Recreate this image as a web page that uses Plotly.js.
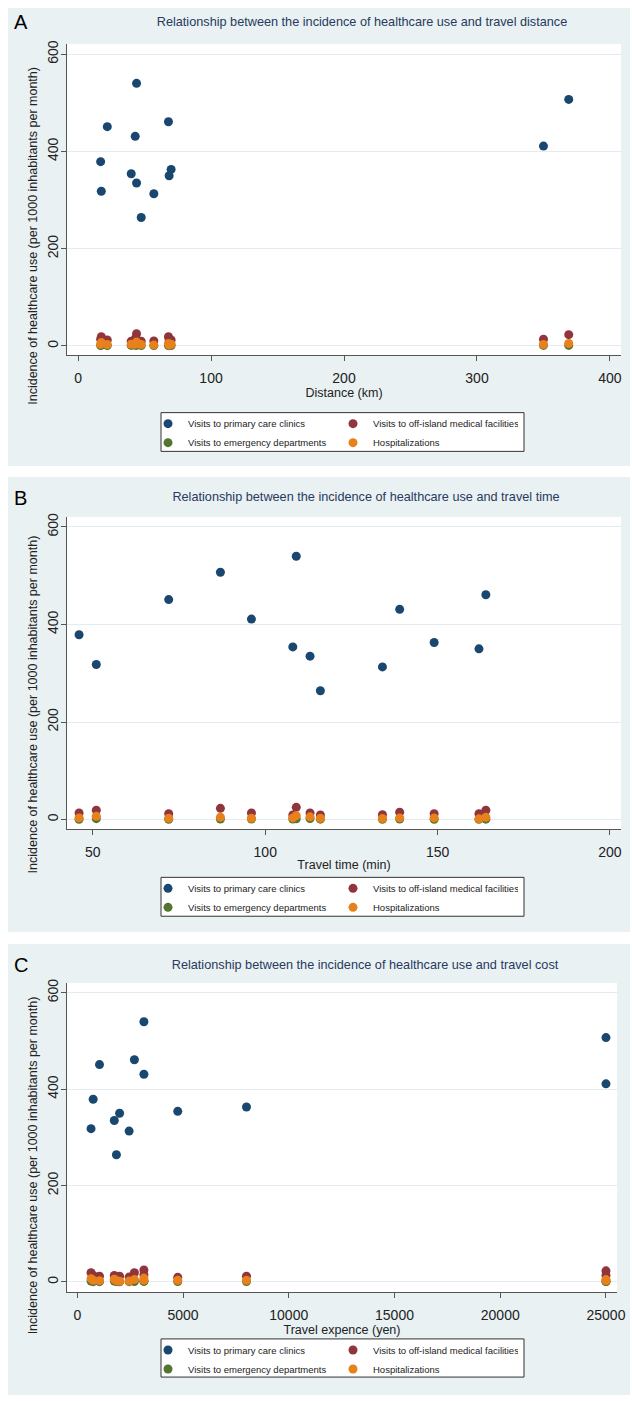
<!DOCTYPE html>
<html><head><meta charset="utf-8">
<script src="https://cdn.plot.ly/plotly-3.0.1.min.js"></script>
<style>
body{margin:0;background:#fff;width:632px;height:1401px;position:relative;overflow:hidden}
.panel{position:absolute;left:8px;width:622px}
</style></head><body>
<div id="pA" class="panel" style="top:8px;height:458px"></div>
<div id="pB" class="panel" style="top:477px;height:455px"></div>
<div id="pC" class="panel" style="top:944px;height:451px"></div>
<script>
// ---- data (one entry per island, same order in every array) ----
const seriesNames = ['Visits to primary care clinics', 'Visits to off-island medical facilities', 'Visits to emergency departments', 'Hospitalizations'];
const seriesColors = ['#1a476f', '#90353b', '#55752f', '#e8801c'];
const distanceKm     = [44, 369, 68, 22, 43, 350, 17, 70, 40, 68.5, 44, 17.5, 57, 47.5];
const travelTimeMin  = [109, 87, 164, 72, 139, 96, 46, 149, 108, 162, 113, 51, 134, 116];
const travelCostYen  = [3150, 25000, 2700, 1050, 3150, 25000, 750, 8000, 4750, 2000, 1750, 650, 2450, 1850];
const primaryCare    = [540, 507, 461, 451, 431, 411, 379, 363, 354, 350, 335, 318, 313, 264];
const offIsland      = [25, 23, 19, 12, 15, 13.5, 13.5, 12, 9.5, 12, 13.5, 19, 10, 9.5];
const emergency      = [1.5, 1.0, 0.8, 0.5, 1.2, 0.9, 0.6, 0.7, 1.0, 0.4, 2.0, 1.8, 0.5, 0.8];
const hospitalization= [8, 4.8, 4.8, 2.7, 3.4, 2.7, 3.4, 3.4, 3.4, 1.4, 5.5, 6.8, 2, 2.7];
const yTicks = [0, 200, 400, 600];
const yAxisTitle = 'Incidence of healthcare use (per 1000 inhabitants per month)';

const FONT = 'Liberation Sans, Arial, Helvetica, sans-serif';

function drawPanel(id, o) {
  const W = 622, H = o.height;
  const l = o.l, r = o.r, t = o.t, b = o.b;
  const pw = W - l - r, ph = H - t - b;
  const plotBottom = t + ph;            // div px
  const px2x = px => (px - l) / pw;     // div px -> paper x
  const py2y = py => (plotBottom - py) / ph; // div px -> paper y
  const ys = [primaryCare, offIsland, emergency, hospitalization];
  const traces = ys.map((y, i) => ({
    type: 'scatter', mode: 'markers', x: o.x, y: y, name: seriesNames[i],
    marker: {color: seriesColors[i], size: 9, line: {width: 0}},
    legendgroup: (i === 0 || i === 2) ? 'c1' : 'c2',
    hoverinfo: 'skip'
  }));
  const layout = {
    width: W, height: H,
    margin: {l: l, r: r, t: t, b: b, pad: 0},
    paper_bgcolor: '#e9f1f3', plot_bgcolor: '#ffffff',
    font: {family: FONT, color: '#222'},
    title: {text: o.title, font: {family: FONT, size: 12.7, color: '#283a5e'},
            xref: 'container', yref: 'container', x: o.titleX / W, xanchor: 'center',
            y: 1 - o.titleY / H, yanchor: 'middle'},
    xaxis: {range: o.xRange, tickvals: o.xTicks, ticktext: o.xTicks.map(String),
            ticks: 'outside', ticklen: 5, tickcolor: '#555', tickwidth: 1, ticklabelstandoff: 5,
            showline: true, linecolor: '#555', linewidth: 1, showgrid: false, zeroline: false,
            tickfont: {family: FONT, size: 14, color: '#222'},
            title: {text: o.xTitle, font: {family: FONT, size: 12.5, color: '#222'}, standoff: 1},
            automargin: false, fixedrange: true},
    yaxis: {range: o.yRange, tickvals: yTicks, ticks: 'outside', ticklen: 5, tickcolor: '#555', tickwidth: 1,
            ticklabelstandoff: -3,
            showline: true, linecolor: '#555', linewidth: 1, showgrid: true, gridcolor: '#e3edf0', gridwidth: 1,
            zeroline: false, tickangle: -90, tickfont: {family: FONT, size: 14, color: '#222'},
            automargin: false, fixedrange: true},
    showlegend: true,
    legend: {orientation: 'h', traceorder: 'grouped', tracegroupgap: 0,
             x: px2x(o.legendLeft), xanchor: 'left',
             y: py2y(o.boxTop - 3.5), yanchor: 'top',
             bgcolor: 'rgba(0,0,0,0)', borderwidth: 0,
             font: {family: FONT, size: 9.5, color: '#222'},
             entrywidth: 140, entrywidthmode: 'pixels', itemwidth: 30},
    shapes: [
      {type: 'rect', xref: 'paper', yref: 'paper', layer: 'below',
       x0: px2x(o.boxLeft), x1: px2x(o.boxRight), y0: py2y(o.boxTop), y1: py2y(o.boxTop + 39),
       fillcolor: '#ffffff', line: {color: '#333', width: 1}}
    ],
    annotations: [
      {text: o.letter, xref: 'paper', yref: 'paper', showarrow: false,
       x: px2x(4), xanchor: 'left', y: py2y(o.titleY), yanchor: 'middle',
       font: {family: FONT, size: 20, color: '#000'}},
      {text: yAxisTitle, xref: 'paper', yref: 'paper', showarrow: false, textangle: -90,
       x: px2x(25), xanchor: 'center', y: py2y(H / 2), yanchor: 'middle',
       font: {family: FONT, size: 12.5, color: '#222'}}
    ]
  };
  Plotly.newPlot(id, traces, layout, {staticPlot: true, displayModeBar: false});
}

// geometry values below are in panel (div) pixels
drawPanel('pA', {height: 458, l: 59, r: 9, t: 36, b: 109,
  letter: 'A', title: 'Relationship between the incidence of healthcare use and travel distance',
  titleX: 354, titleY: 14, xTitle: 'Distance (km)', x: distanceKm,
  xRange: [-8.3, 408.3], xTicks: [0, 100, 200, 300, 400], yRange: [-18.8, 621],
  legendLeft: 140, boxLeft: 153, boxRight: 516, boxTop: 407});

drawPanel('pB', {height: 455, l: 59, r: 9, t: 39.5, b: 102.5,
  letter: 'B', title: 'Relationship between the incidence of healthcare use and travel time',
  titleX: 358, titleY: 20, xTitle: 'Travel time (min)', x: travelTimeMin,
  xRange: [42.5, 203.2], xTicks: [50, 100, 150, 200], yRange: [-19.4, 620.4],
  legendLeft: 140, boxLeft: 153, boxRight: 516, boxTop: 401});

drawPanel('pC', {height: 451, l: 59, r: 13, t: 39, b: 96,
  letter: 'C', title: 'Relationship between the incidence of healthcare use and travel cost',
  titleX: 357, titleY: 21, xTitle: 'Travel expence (yen)', x: travelCostYen,
  xRange: [-487, 25521], xTicks: [0, 5000, 10000, 15000, 20000, 25000], yRange: [-20.9, 620.3],
  legendLeft: 140, boxLeft: 153, boxRight: 516, boxTop: 403});
</script>
</body></html>
